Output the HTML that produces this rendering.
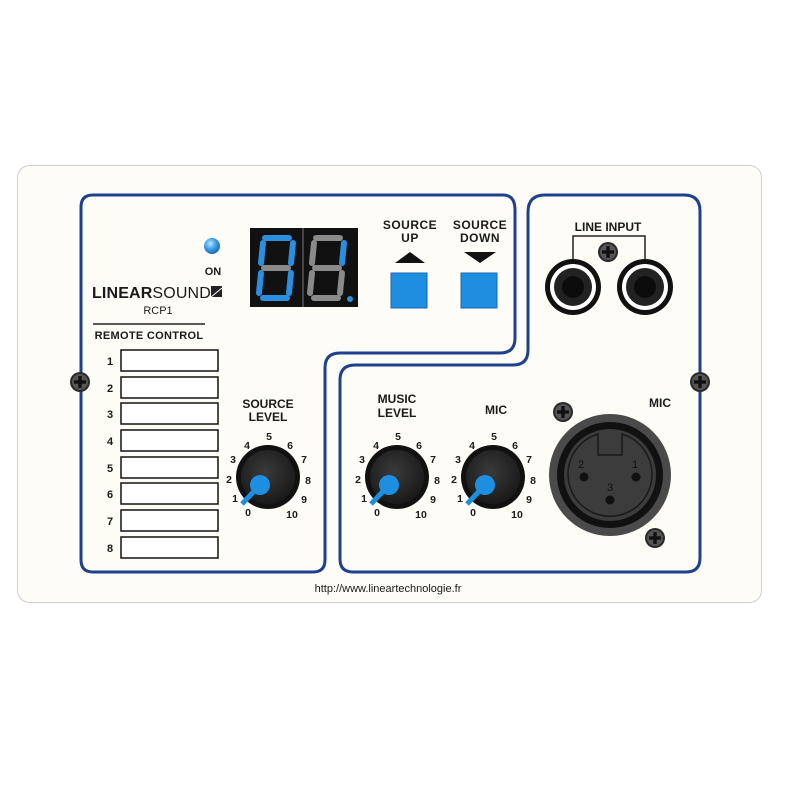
<!DOCTYPE html>
<html><head><meta charset="utf-8"><style>
html,body{margin:0;padding:0;background:#fff;}
svg{display:block;}
text{font-family:"Liberation Sans",sans-serif;fill:#1a1a1a;}
.b{font-weight:bold;}
</style></head><body>
<svg width="800" height="800" viewBox="0 0 800 800" xmlns="http://www.w3.org/2000/svg">
<defs>
<radialGradient id="led" cx="0.4" cy="0.35" r="0.7"><stop offset="0" stop-color="#bfe6ff"/><stop offset="0.5" stop-color="#3aa0e8"/><stop offset="1" stop-color="#1a5fa8"/></radialGradient>
<radialGradient id="knob" cx="0.45" cy="0.4" r="0.6"><stop offset="0" stop-color="#3a3a3a"/><stop offset="1" stop-color="#1a1a1a"/></radialGradient>
<g id="screw"><circle r="10" fill="#2a2a2a"/><circle r="8" fill="#555"/><rect x="-6" y="-1.7" width="12" height="3.4" fill="#111"/><rect x="-1.7" y="-6" width="3.4" height="12" fill="#111"/></g>
<g id="knobg"><circle r="32" fill="#111"/><circle r="27" fill="url(#knob)"/><line x1="-8" y1="8" x2="-26" y2="27" stroke="#1e8fe0" stroke-width="5"/><circle cx="-8" cy="8" r="10" fill="#1e8fe0"/></g>
<g id="scale" font-size="10.5" font-weight="bold" text-anchor="middle">
<text x="-20" y="39">0</text><text x="-33" y="25">1</text><text x="-39" y="6">2</text><text x="-35" y="-14">3</text><text x="-21" y="-28">4</text><text x="1" y="-37">5</text><text x="22" y="-28">6</text><text x="36" y="-14">7</text><text x="40" y="7">8</text><text x="36" y="26">9</text><text x="24" y="41">10</text>
</g>
</defs>
<rect x="0" y="0" width="800" height="800" fill="#fff"/>
<rect x="17.5" y="165.5" width="744" height="437" rx="12" fill="#fdfcf6" stroke="#cfcfcf"/>
<path d="M93,195 H503 Q515,195 515,210 V338 Q515,353 500,353 H340 Q325,353 325,368 V560 Q325,572 313,572 H93 Q81,572 81,560 V207 Q81,195 93,195 Z" fill="none" stroke="#1f3f8f" stroke-width="3"/>
<path d="M545,195 H684 Q700,195 700,211 V558 Q700,572 686,572 H353 Q340,572 340,559 V380 Q340,365 355,365 H513 Q528,365 528,350 V212 Q528,195 545,195 Z" fill="none" stroke="#1f3f8f" stroke-width="3"/>
<circle cx="212" cy="246" r="8" fill="url(#led)"/>
<text x="213" y="275" class="b" font-size="11" text-anchor="middle">ON</text>
<text x="92" y="298" font-size="16" font-weight="bold" letter-spacing="-0.8" textLength="118"><tspan>LINEAR</tspan><tspan font-weight="normal">SOUND</tspan></text>
<rect x="211" y="286" width="11" height="11" fill="#222"/><line x1="211" y1="297" x2="222" y2="288" stroke="#fff" stroke-width="1"/>
<text x="158" y="314" font-size="11" text-anchor="middle">RCP1</text>
<line x1="93" y1="324" x2="205" y2="324" stroke="#222" stroke-width="1.5"/>
<text x="149" y="339" class="b" font-size="11" text-anchor="middle" letter-spacing="0.3">REMOTE CONTROL</text>
<g fill="#fff" stroke="#111" stroke-width="1.5">
<rect x="121" y="350" width="97" height="21"/><rect x="121" y="377" width="97" height="21"/><rect x="121" y="403" width="97" height="21"/><rect x="121" y="430" width="97" height="21"/><rect x="121" y="457" width="97" height="21"/><rect x="121" y="483" width="97" height="21"/><rect x="121" y="510" width="97" height="21"/><rect x="121" y="537" width="97" height="21"/>
</g>
<g font-size="11" font-weight="bold" text-anchor="middle">
<text x="110" y="365">1</text><text x="110" y="392">2</text><text x="110" y="418">3</text><text x="110" y="445">4</text><text x="110" y="472">5</text><text x="110" y="498">6</text><text x="110" y="525">7</text><text x="110" y="552">8</text>
</g>
<use href="#screw" x="80" y="382"/>
<use href="#screw" x="700" y="382"/>
<rect x="250" y="228" width="108" height="79" fill="#111"/>
<line x1="303" y1="228" x2="303" y2="307" stroke="#444" stroke-width="2"/>
<g stroke-linecap="round" stroke-width="6">
<line x1="265" y1="238" x2="289" y2="238" stroke="#2a8fe0"/>
<line x1="263" y1="243" x2="261" y2="263" stroke="#2a8fe0"/>
<line x1="293" y1="243" x2="291" y2="263" stroke="#2a8fe0"/>
<line x1="264" y1="268" x2="288" y2="268" stroke="#8a8a8a"/>
<line x1="261" y1="273" x2="259" y2="293" stroke="#2a8fe0"/>
<line x1="291" y1="273" x2="289" y2="293" stroke="#2a8fe0"/>
<line x1="263" y1="298" x2="287" y2="298" stroke="#2a8fe0"/>
<line x1="316" y1="238" x2="340" y2="238" stroke="#8a8a8a"/>
<line x1="314" y1="243" x2="312" y2="263" stroke="#8a8a8a"/>
<line x1="344" y1="243" x2="342" y2="263" stroke="#2a8fe0"/>
<line x1="315" y1="268" x2="339" y2="268" stroke="#8a8a8a"/>
<line x1="312" y1="273" x2="310" y2="293" stroke="#8a8a8a"/>
<line x1="342" y1="273" x2="340" y2="293" stroke="#8a8a8a"/>
<line x1="314" y1="298" x2="338" y2="298" stroke="#8a8a8a"/>
</g>
<circle cx="350" cy="299" r="3" fill="#2a8fe0"/>
<g class="b" font-size="12" text-anchor="middle" font-weight="bold" letter-spacing="0.5">
<text x="410" y="229">SOURCE</text><text x="410" y="242">UP</text>
<text x="480" y="229">SOURCE</text><text x="480" y="242">DOWN</text>
</g>
<polygon points="395,263 425,263 410,252" fill="#111"/>
<polygon points="464,252 496,252 480,263" fill="#111"/>
<rect x="391" y="273" width="36" height="35" fill="#1e8fe0" stroke="#1568b0"/>
<rect x="461" y="273" width="36" height="35" fill="#1e8fe0" stroke="#1568b0"/>
<text x="608" y="231" class="b" font-size="12" text-anchor="middle" font-weight="bold">LINE INPUT</text>
<polyline points="573,262 573,236 645,236 645,262" fill="none" stroke="#222" stroke-width="1.5"/>
<use href="#screw" x="608" y="252"/>
<g><circle cx="573" cy="287" r="28" fill="#111"/><circle cx="573" cy="287" r="23" fill="#fff"/><circle cx="573" cy="287" r="19" fill="#222"/><circle cx="573" cy="287" r="11" fill="#0c0c0c"/></g>
<g><circle cx="645" cy="287" r="28" fill="#111"/><circle cx="645" cy="287" r="23" fill="#fff"/><circle cx="645" cy="287" r="19" fill="#222"/><circle cx="645" cy="287" r="11" fill="#0c0c0c"/></g>
<g class="b" font-size="12" text-anchor="middle" font-weight="bold">
<text x="268" y="408">SOURCE</text><text x="268" y="421">LEVEL</text>
<text x="397" y="403">MUSIC</text><text x="397" y="417">LEVEL</text>
<text x="496" y="414">MIC</text>
<text x="660" y="407">MIC</text>
</g>
<use href="#knobg" x="268" y="477"/><use href="#scale" x="268" y="477"/>
<use href="#knobg" x="397" y="477"/><use href="#scale" x="397" y="477"/>
<use href="#knobg" x="493" y="477"/><use href="#scale" x="493" y="477"/>
<circle cx="610" cy="475" r="61" fill="#4a4a4a"/>
<circle cx="610" cy="475" r="53" fill="#111"/>
<circle cx="610" cy="475" r="46" fill="#3c3c3c"/>
<path d="M598,434 A42,42 0 1 0 622,434 V455 H598 Z" fill="none" stroke="#1a1a1a" stroke-width="1.5"/>
<circle cx="584" cy="477" r="4.5" fill="#111"/><circle cx="636" cy="477" r="4.5" fill="#111"/><circle cx="610" cy="500" r="4.5" fill="#111"/>
<g font-size="11" text-anchor="middle"><text x="581" y="468" style="fill:#111">2</text><text x="635" y="468" style="fill:#111">1</text><text x="610" y="491" style="fill:#111">3</text></g>
<use href="#screw" x="563" y="412"/>
<use href="#screw" x="655" y="538"/>
<text x="388" y="592" font-size="11" text-anchor="middle">http://www.lineartechnologie.fr</text>
</svg>
</body></html>
